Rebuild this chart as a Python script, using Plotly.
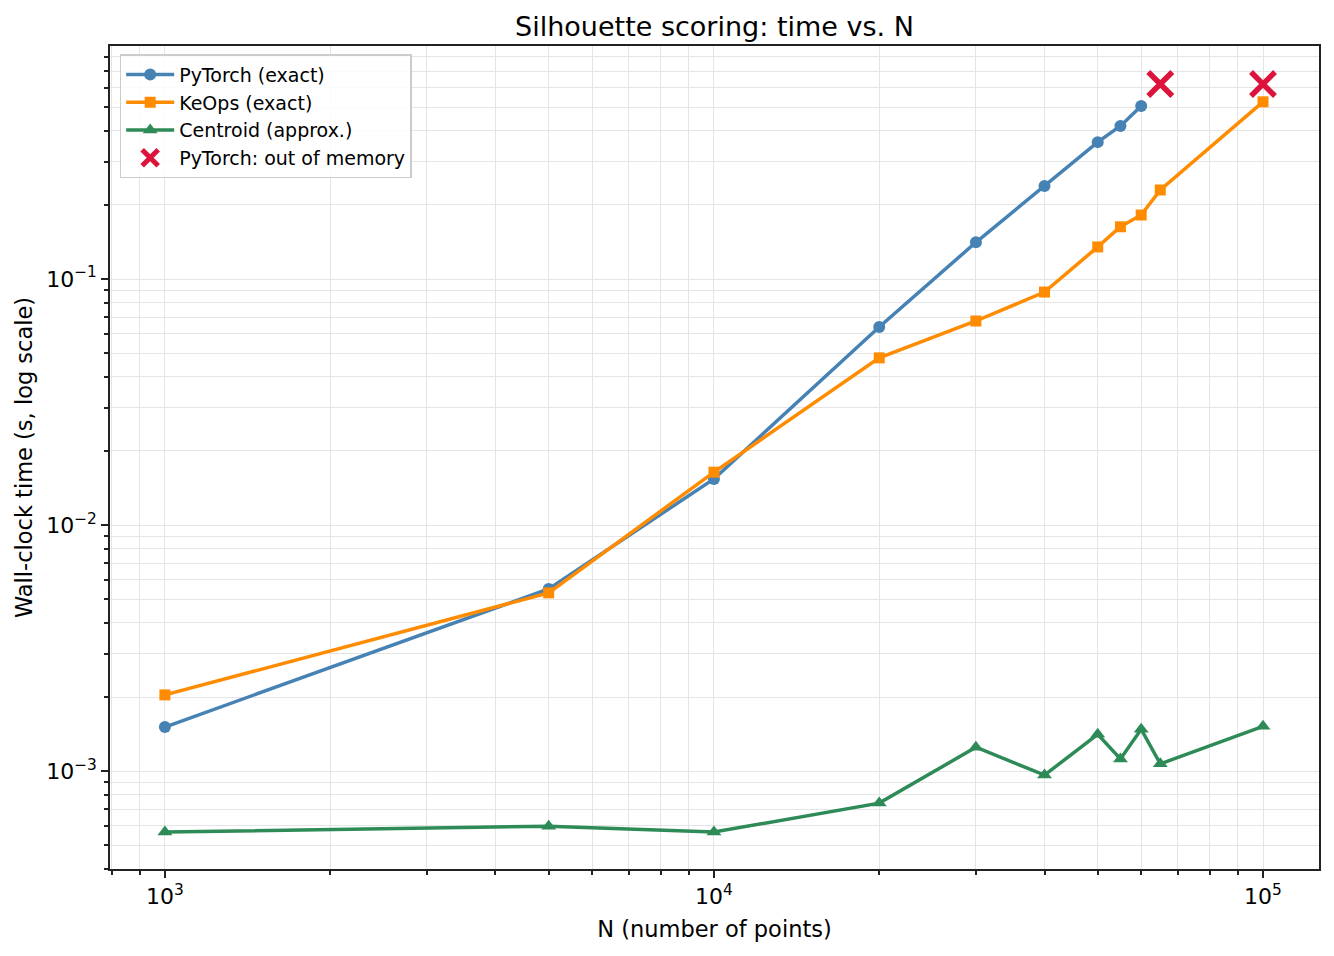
import plotly.graph_objects as go

# benchmark sizes
n_points = [1000, 5000, 10000, 20000, 30000, 40000, 50000, 55000, 60000, 65000, 100000]

# wall-clock times (s)
torch_n = [1000, 5000, 10000, 20000, 30000, 40000, 50000, 55000, 60000]
torch_time = [0.00151, 0.0055, 0.0154, 0.0638, 0.141, 0.239, 0.360, 0.419, 0.505]
keops_time = [0.00204, 0.0053, 0.0164, 0.0478, 0.0675, 0.0885, 0.135, 0.163, 0.182, 0.230, 0.525]
centroid_time = [0.000565, 0.000597, 0.000565, 0.000741, 0.00125, 0.000963, 0.00141, 0.00112, 0.00148, 0.00107, 0.00152]

# where pytorch ran out of memory
oom_n = [65000, 100000]
oom_time = [0.62, 0.62]

x_major = [1e3, 1e4, 1e5]
x_major_text = ["10<sup>3</sup>", "10<sup>4</sup>", "10<sup>5</sup>"]
y_major = [1e-3, 1e-2, 1e-1]
y_major_text = ["10<sup>\u22123</sup>", "10<sup>\u22122</sup>", "10<sup>\u22121</sup>"]

x_minor = [m * 10 ** e for e in (2, 3, 4) for m in range(2, 10)]
y_minor = [m * 10.0 ** e for e in (-4, -3, -2, -1) for m in range(2, 10)]

FONT = "DejaVu Sans"
GRID = "#e5e5e5"

fig = go.Figure()

fig.add_trace(go.Scatter(
    x=torch_n, y=torch_time, name="PyTorch (exact)", mode="lines+markers",
    line=dict(color="#4682B4", width=3.5),
    marker=dict(symbol="circle", size=12, color="#4682B4")
))
fig.add_trace(go.Scatter(
    x=n_points, y=keops_time, name="KeOps (exact)", mode="lines+markers",
    line=dict(color="#FF8C00", width=3.5),
    marker=dict(symbol="square", size=11, color="#FF8C00")
))
fig.add_trace(go.Scatter(
    x=n_points, y=centroid_time, name="Centroid (approx.)", mode="lines+markers",
    line=dict(color="#2E8B57", width=3.5),
    marker=dict(symbol="triangle-up", size=13, color="#2E8B57")
))
fig.add_trace(go.Scatter(
    x=oom_n, y=oom_time, name="PyTorch: out of memory", mode="markers",
    marker=dict(symbol="x-thin-open", size=24, color="#DC143C",
                line=dict(color="#DC143C", width=5.5))
))

axis_common = dict(
    type="log",
    showline=True, linecolor="#222222", linewidth=1.5, mirror=True,
    ticks="outside", ticklen=7, tickwidth=1.5, tickcolor="#222222",
    showgrid=True, gridcolor=GRID, gridwidth=1,
    zeroline=False,
    tickfont=dict(family=FONT, size=22, color="black"),
)

fig.update_xaxes(
    **axis_common,
    range=[2.9, 5.102],
    tickmode="array", tickvals=x_major, ticktext=x_major_text,
    minor=dict(tickmode="array", tickvals=x_minor, ticks="outside", ticklen=4,
               tickcolor="#222222", showgrid=True, gridcolor=GRID, gridwidth=1),
    title=dict(text="N (number of points)", font=dict(family=FONT, size=22.5, color="black"),
               standoff=13),
)
fig.update_yaxes(
    **axis_common,
    range=[-3.398, -0.053],
    tickmode="array", tickvals=y_major, ticktext=y_major_text,
    minor=dict(tickmode="array", tickvals=y_minor, ticks="outside", ticklen=4,
               tickcolor="#222222", showgrid=True, gridcolor=GRID, gridwidth=1),
    title=dict(text="Wall-clock time (s, log scale)", font=dict(family=FONT, size=22.5, color="black"),
               standoff=7),
)

fig.update_layout(
    width=1318, height=940,
    margin=dict(l=102, r=5, t=38, b=79),
    paper_bgcolor="white", plot_bgcolor="white",
    title=dict(text="Silhouette scoring: time vs. N", x=0.5, xanchor="center",
               xref="paper", y=0.980, yanchor="middle",
               font=dict(family=FONT, size=27, color="black")),
    legend=dict(x=0.008, y=0.990, xanchor="left", yanchor="top",
                bgcolor="rgba(255,255,255,0.85)", bordercolor="#cccccc", borderwidth=1.5,
                font=dict(family=FONT, size=19, color="black"),
                itemwidth=48, tracegroupgap=0),
    showlegend=True,
)

fig.write_html("out.html")
